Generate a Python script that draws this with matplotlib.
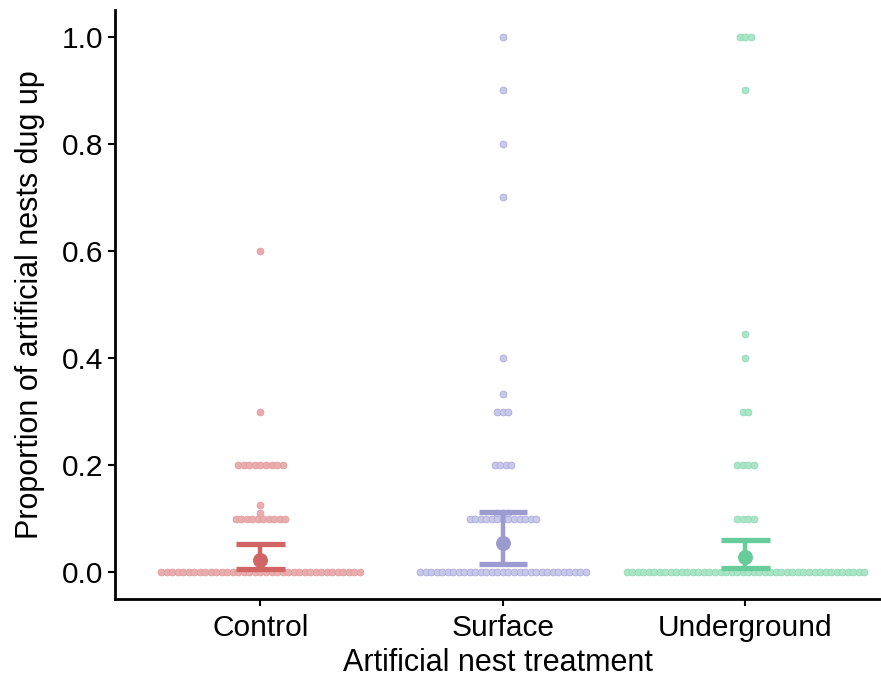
import numpy as np
import matplotlib
matplotlib.use("Agg")
import matplotlib.pyplot as plt

plt.rcParams['font.family'] = ['Liberation Sans', 'DejaVu Sans']

categories = ["Control", "Surface", "Underground"]

# observed proportions (value levels) and number of sites at each level
control_levels = [0.0, 0.1, 0.111, 0.125, 0.2, 0.3, 0.6]
control_counts = [37, 10, 1, 1, 9, 1, 1]
surface_levels = [0.0, 0.1, 0.111, 0.2, 0.3, 0.333, 0.4, 0.7, 0.8, 0.9, 1.0]
surface_counts = [31, 13, 3, 4, 3, 1, 1, 1, 1, 1, 1]
underground_levels = [0.0, 0.1, 0.2, 0.3, 0.4, 0.444, 0.9, 1.0]
underground_counts = [44, 4, 4, 2, 1, 1, 1, 3]

# model estimates with 95% CI
means = [0.022, 0.054, 0.028]
ci_low = [0.006, 0.015, 0.008]
ci_high = [0.052, 0.112, 0.060]

dot_fill = ["#EAADAD", "#C8C8EB", "#ABE5C7"]
dot_edge = ["#E29C9C", "#ABABDB", "#90D9B3"]
main_col = ["#D06563", "#9B9BD0", "#66CC99"]

fig = plt.figure(figsize=(8.81, 6.78), dpi=100)
ax = fig.add_axes([115/881, 1 - 599/678, (880-115)/881, (599-10)/678])

levels = [control_levels, surface_levels, underground_levels]
counts = [control_counts, surface_counts, underground_counts]
spacing = 0.0228
for i, (lv, ct) in enumerate(zip(levels, counts)):
    xc = i + 1
    for v, n in zip(lv, ct):
        xs = xc + (np.arange(n) - (n - 1) / 2) * spacing
        ax.scatter(xs, np.full(n, v), s=24, facecolor=dot_fill[i],
                   edgecolor=dot_edge[i], linewidths=0.6, zorder=2, clip_on=False)

for i in range(3):
    xc = i + 1
    ax.plot([xc, xc], [ci_low[i], ci_high[i]], color=main_col[i], lw=3.2,
            solid_capstyle='butt', zorder=3)
    for yv in (ci_low[i], ci_high[i]):
        ax.plot([xc - 0.1, xc + 0.1], [yv, yv], color=main_col[i], lw=3.8,
                solid_capstyle='butt', zorder=3)
    ax.scatter([xc], [means[i]], s=95, color=main_col[i], zorder=4)

ax.set_xlim(0.4, 3.555)
ax.set_ylim(-0.05, 1.05)
ax.set_xticks([1, 2, 3])
ax.set_xticklabels(categories)
ax.set_yticks([0, 0.2, 0.4, 0.6, 0.8, 1.0])
ax.set_yticklabels(["0.0", "0.2", "0.4", "0.6", "0.8", "1.0"])
ax.tick_params(labelsize=21.5, length=5, width=1.5, color="black", labelcolor="black")
ax.tick_params(axis='x', pad=6)
for s in ("top", "right"):
    ax.spines[s].set_visible(False)
for s in ("left", "bottom"):
    ax.spines[s].set_linewidth(2)
ax.set_xlabel("Artificial nest treatment", fontsize=22, labelpad=4)
ax.set_ylabel("Proportion of artificial nests dug up", fontsize=22, labelpad=12)

fig.savefig("out.png", dpi=100)
